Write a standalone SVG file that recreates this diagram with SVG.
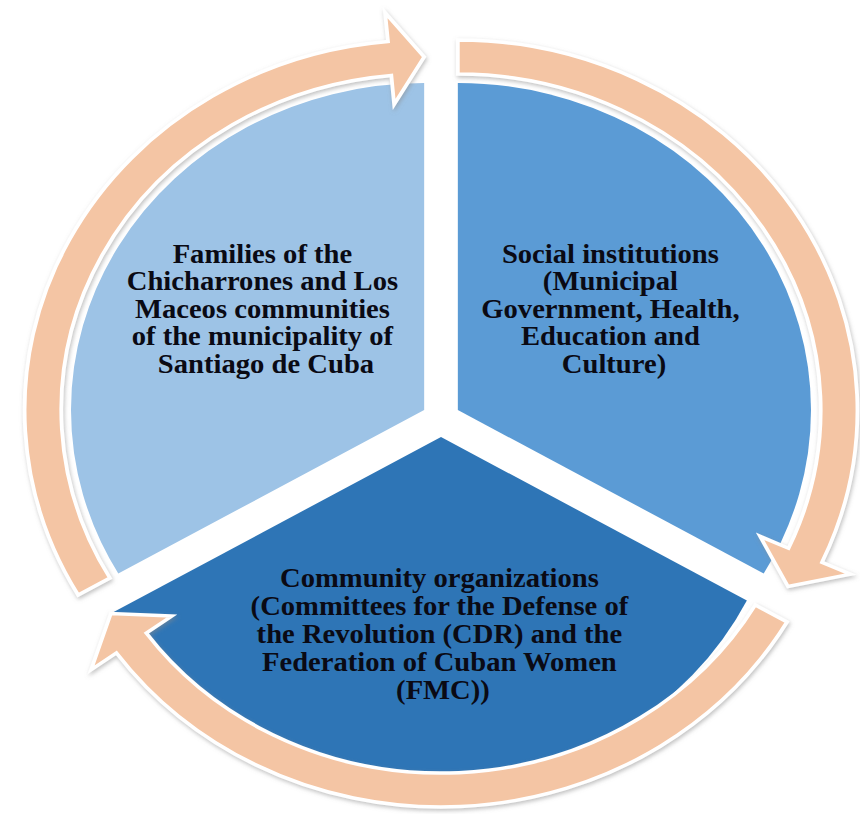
<svg xmlns="http://www.w3.org/2000/svg" width="860" height="814" viewBox="0 0 860 814">
  <defs>
    <filter id="shadow" x="-10%" y="-10%" width="120%" height="120%">
      <feDropShadow dx="1" dy="2" stdDeviation="2" flood-color="#8a8a8a" flood-opacity="0.55"/>
    </filter>
    <style>
      .sec { stroke: none; }
      .s-left { fill: #9DC3E6; }
      .s-right { fill: #5B9BD5; }
      .s-bottom { fill: #2E75B6; }
      .arrow { fill: #F4C5A4; stroke: #ffffff; stroke-width: 3.5; stroke-linejoin: miter; filter: url(#shadow); }
      .lbl { font-family: "Liberation Serif", "Times New Roman", serif; font-weight: bold; font-size: 27px; fill: #0a0a14; text-anchor: middle; }
    </style>
  </defs>
  <rect width="860" height="814" fill="#ffffff"/>

  <g id="node-families">
    <path class="sec s-left" transform="translate(441,419) scale(1.08,1) translate(-15.59,-9)" d="M0,0 L-283.2,163.5 A327,327 0 0 1 0,-327 Z"/>
    <text class="lbl" transform="matrix(1.06 0 0 1 -15.96 0)">
      <tspan x="266" y="263">Families of the</tspan>
      <tspan x="266" y="290.5">Chicharrones and Los</tspan>
      <tspan x="266" y="318">Maceos communities</tspan>
      <tspan x="266" y="345.5">of the municipality of</tspan>
      <tspan x="266" y="373">Santiago de Cuba</tspan>
    </text>
  </g>

  <g id="node-social">
    <path class="sec s-right" transform="translate(441,419) scale(1.08,1) translate(15.59,-9)" d="M0,0 L0,-327 A327,327 0 0 1 283.2,163.5 Z"/>
    <text class="lbl" transform="matrix(1.06 0 0 1 -36.84 0)">
      <tspan x="614" y="263">Social institutions</tspan>
      <tspan x="614" y="290.5">(Municipal</tspan>
      <tspan x="614" y="318">Government, Health,</tspan>
      <tspan x="614" y="345.5">Education and</tspan>
      <tspan x="614" y="373">Culture)</tspan>
    </text>
  </g>

  <g id="node-community">
    <path class="sec s-bottom" transform="translate(441,419) scale(1.08,1) translate(0,18)" d="M0,0 L283.2,163.5 A330,330 0 0 1 -303.1,175 Z"/>
    <text class="lbl" transform="matrix(1.06 0 0 1 -26.58 0)">
      <tspan x="443" y="587">Community organizations</tspan>
      <tspan x="443" y="615">(Committees for the Defense of</tspan>
      <tspan x="443" y="643">the Revolution (CDR) and the</tspan>
      <tspan x="443" y="671">Federation of Cuban Women</tspan>
      <tspan x="443" y="699">(FMC))</tspan>
    </text>
  </g>

  <g id="connectors">
    <path class="arrow" transform="translate(441,419) scale(1.08,1) translate(15.59,-9)" d="M0,-370 A370,370 0 0 1 337.2,152.3 L363.6,164.2 L305.7,176.5 L279.8,126.3 L306.2,138.3 A336,336 0 0 0 0,-336 Z"/>
    <path class="arrow" transform="translate(441,419) scale(1.08,1) translate(0,18)" d="M320.4,185 A370,370 0 0 1 -300.5,215.9 L-324.0,232.8 L-305.7,176.5 L-249.3,179.1 L-272.9,196.1 A336,336 0 0 0 291.0,168 Z"/>
    <path class="arrow" transform="translate(441,419) scale(1.08,1) translate(-15.59,-9)" d="M-320.4,185 A370,370 0 0 1 -33.5,-368.5 L-36.2,-397.4 L0,-353 L-27.8,-305.7 L-30.4,-334.6 A336,336 0 0 0 -291.0,168 Z"/>
  </g>
</svg>
